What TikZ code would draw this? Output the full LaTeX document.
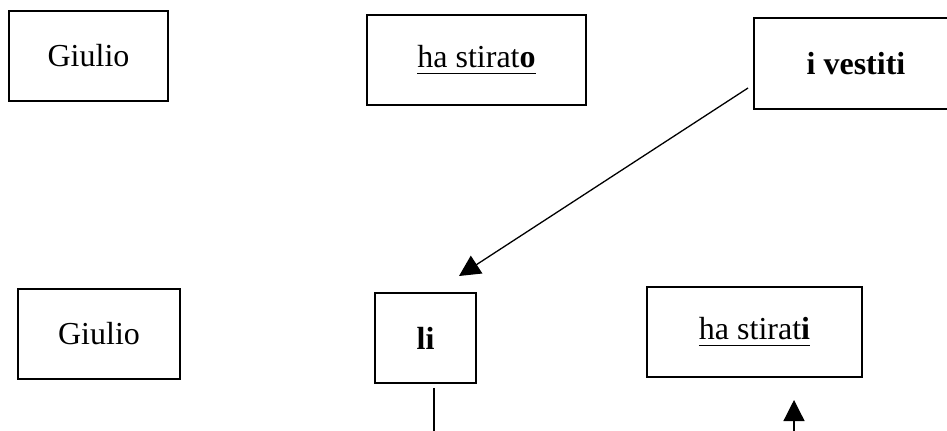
\documentclass[tikz,border=0pt]{standalone}
\usepackage{fontspec}
\setmainfont{Liberation Serif}
\usetikzlibrary{arrows.meta}

\newcommand{\wordline}[1]{\setbox0\hbox{#1}\rlap{\copy0}\rule[-3.2pt]{\wd0}{0.8pt}}

\tikzset{
    wordbox/.style={draw, line width=0.8pt, inner sep=0pt, font=\fontsize{16}{19}\selectfont},
    pointer/.style={line width=0.65pt, -{Triangle[length=10.5pt,width=10.5pt]}}
}

\begin{document}
\begin{tikzpicture}[x=0.5pt,y=-0.5pt]
        \useasboundingbox (0,0) rectangle (947,430);
        % first sentence
        \node[wordbox, minimum width=79.5pt, minimum height=45pt] (giulioA) at (88.5,56) {Giulio};
        \node[wordbox, minimum width=109.5pt, minimum height=45pt] (stiratoA) at (476.5,60) {\wordline{ha stirat\textbf{o}}};
        \node[wordbox, draw=none, minimum width=101pt, minimum height=44.5pt] (vestiti) at (856,63.5) {\textbf{i vestiti}};
        \draw[line width=0.8pt] (vestiti.north west) rectangle ([xshift=20pt]vestiti.south east);
        % second sentence
        \node[wordbox, minimum width=81pt, minimum height=45pt] (giulioB) at (99,334) {Giulio};
        \node[wordbox, minimum width=50.5pt, minimum height=45pt] (li) at (425.5,338) {\textbf{li}};
        \node[wordbox, minimum width=107.5pt, minimum height=45pt] (stiratiB) at (754.5,332) {\wordline{ha stirat\textbf{i}}};
        % links
        \coordinate (vsFrom) at (748,88);
        \coordinate (liTop) at (459,276);
        \coordinate (liOut) at (434,445);
        \coordinate (agrIn) at (794,445);
        \coordinate (agrTip) at (794,400);
        \draw[pointer] (vsFrom) -- (liTop);
        \draw[line width=0.65pt] ([xshift=4.25pt,yshift=-2pt]li.south) -- (liOut);
        \draw[pointer] (agrIn) -- (agrTip);
\end{tikzpicture}
\end{document}
